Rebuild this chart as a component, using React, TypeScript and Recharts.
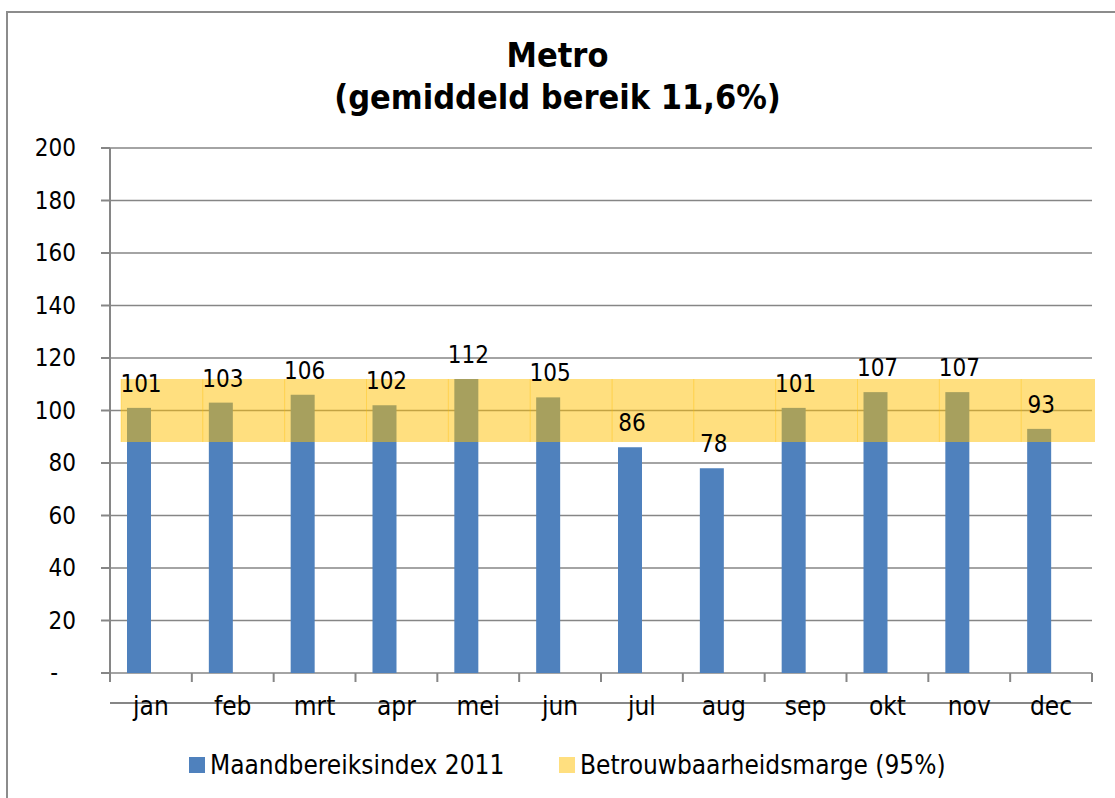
import React from 'react';
import { ComposedChart, Bar, XAxis, YAxis, CartesianGrid, LabelList } from 'recharts';

const months = ['jan', 'feb', 'mrt', 'apr', 'mei', 'jun', 'jul', 'aug', 'sep', 'okt', 'nov', 'dec'];
const index2011 = [101, 103, 106, 102, 112, 105, 86, 78, 101, 107, 107, 93];
const marginLow = [88, 88, 88, 88, 88, 88, 88, 88, 88, 88, 88, 88];
const marginHigh = [112, 112, 112, 112, 112, 112, 112, 112, 112, 112, 112, 112];
const yTicks = [0, 20, 40, 60, 80, 100, 120, 140, 160, 180, 200];

const CHART_W = 1115;
const CHART_H = 798;
const MARGIN = { top: 148, right: 23, bottom: 0, left: 0 };
const Y_AXIS_W = 110;
const X_AXIS_H = 125;
const PLOT_RIGHT = CHART_W - MARGIN.right;
const PLOT_BOTTOM = CHART_H - MARGIN.bottom - X_AXIS_H;
const BAND_W = (CHART_W - MARGIN.right - MARGIN.left - Y_AXIS_W) / months.length;

// Excel draws the two series side by side with a big overlap, so nudge them
const BAR_SHIFT = -12;
const BAND_SHIFT = 11;

const FONT = '"DejaVu Sans Condensed", "DejaVu Sans", sans-serif';
const GREY = '#868686';
const BLUE = '#4F81BD';
const GOLD = '#FFC000';

const data = months.map((m, i) => ({
  month: m,
  index: index2011[i],
  low: marginLow[i],
  spread: marginHigh[i] - marginLow[i],
}));

const BlueBar = (p: any) => (
  <rect x={p.x + BAR_SHIFT} y={p.y} width={p.width} height={p.height} fill={BLUE} />
);

const BandBar = (p: any) => {
  const x0 = p.x + BAND_SHIFT;
  const x1 = Math.min(x0 + p.width, PLOT_RIGHT + 3);
  return (
    <g>
      <rect x={x0} y={p.y} width={x1 - x0} height={p.height} fill={GOLD} fillOpacity={0.5} />
      <line x1={x0} x2={x0} y1={p.y} y2={p.y + p.height} stroke={GOLD} strokeOpacity={0.35} />
    </g>
  );
};

const ValueLabel = (p: any) => {
  const { x, y, width, value } = p;
  return (
    <text x={x + width / 2 + BAR_SHIFT + 2} y={y - 16} textAnchor="middle" fontSize={24} fill="#000" fontFamily={FONT}>
      {value}
    </text>
  );
};

const XTick = (p: any) => {
  const { x, payload, index } = p;
  const y = PLOT_BOTTOM;
  const left = x - BAND_W / 2;
  return (
    <g>
      <line x1={left} x2={left} y1={y} y2={y + 9} stroke={GREY} strokeWidth={2} />
      {index === months.length - 1 && (
        <line x1={x + BAND_W / 2} x2={x + BAND_W / 2} y1={y} y2={y + 9} stroke={GREY} strokeWidth={2} />
      )}
      <text x={x} y={y + 42} textAnchor="middle" fontSize={26} fill="#000" fontFamily={FONT}>
        {payload.value}
      </text>
    </g>
  );
};

const YTick = (p: any) => {
  const { x, y, payload } = p;
  const zero = payload.value === 0;
  return (
    <text x={zero ? x - 18 : x} y={y} dy="0.35em" textAnchor="end" fontSize={24} fill="#000" fontFamily={FONT}>
      {zero ? '-' : payload.value}
    </text>
  );
};

const LegendItem = ({ color, label, opacity, left }: { color: string; label: string; opacity?: number; left: number }) => (
  <div style={{ position: 'absolute', left, top: 0, display: 'flex', alignItems: 'center', whiteSpace: 'nowrap' }}>
    <div style={{ width: 16, height: 16, background: color, opacity: opacity ?? 1, marginRight: 5 }} />
    <span>{label}</span>
  </div>
);

export default function App() {
  return (
    <div style={{ position: 'absolute', left: 0, top: 0, width: CHART_W, height: CHART_H, overflow: 'hidden', background: '#fff', fontFamily: FONT }}>
      <div
        style={{
          position: 'absolute',
          left: 6,
          top: 11,
          width: CHART_W - 6,
          height: CHART_H - 11,
          borderLeft: '2px solid #8c8c8c',
          borderTop: '2px solid #8c8c8c',
          boxSizing: 'border-box',
        }}
      />
      <div
        style={{
          position: 'absolute',
          left: 0,
          top: 34,
          width: CHART_W,
          textAlign: 'center',
          fontWeight: 'bold',
          fontSize: 34,
          lineHeight: '42px',
          color: '#000',
        }}
      >
        <div>Metro</div>
        <div>(gemiddeld bereik 11,6%)</div>
      </div>
      <div style={{ position: 'absolute', left: 0, top: 0 }}>
        <ComposedChart width={CHART_W} height={CHART_H} data={data} margin={MARGIN} barCategoryGap={0}>
          <CartesianGrid xAxisId="main" vertical={false} stroke={GREY} strokeWidth={1.5} />
          <XAxis
            xAxisId="main"
            dataKey="month"
            height={X_AXIS_H}
            tickLine={false}
            tickSize={0}
            tickMargin={0}
            axisLine={{ stroke: GREY, strokeWidth: 2 }}
            tick={<XTick />}
            interval={0}
          />
          <XAxis xAxisId="band" dataKey="month" hide />
          <YAxis
            width={Y_AXIS_W}
            domain={[0, 200]}
            ticks={yTicks}
            interval={0}
            tickSize={9}
            tickMargin={25}
            tickLine={{ stroke: GREY, strokeWidth: 2 }}
            axisLine={{ stroke: GREY, strokeWidth: 2 }}
            tick={<YTick />}
          />
          <Bar xAxisId="main" dataKey="index" barSize={24} shape={<BlueBar />} isAnimationActive={false}>
            <LabelList dataKey="index" content={<ValueLabel />} />
          </Bar>
          <Bar xAxisId="band" dataKey="low" stackId="band" fill="transparent" isAnimationActive={false} />
          <Bar xAxisId="band" dataKey="spread" stackId="band" shape={<BandBar />} isAnimationActive={false} />
        </ComposedChart>
      </div>
      <div style={{ position: 'absolute', left: 0, top: 749, width: CHART_W, height: 32, fontSize: 26, lineHeight: '32px', color: '#000' }}>
        <LegendItem left={189} color={BLUE} label="Maandbereiksindex 2011" />
        <LegendItem left={559} color={GOLD} opacity={0.5} label="Betrouwbaarheidsmarge (95%)" />
      </div>
    </div>
  );
}
